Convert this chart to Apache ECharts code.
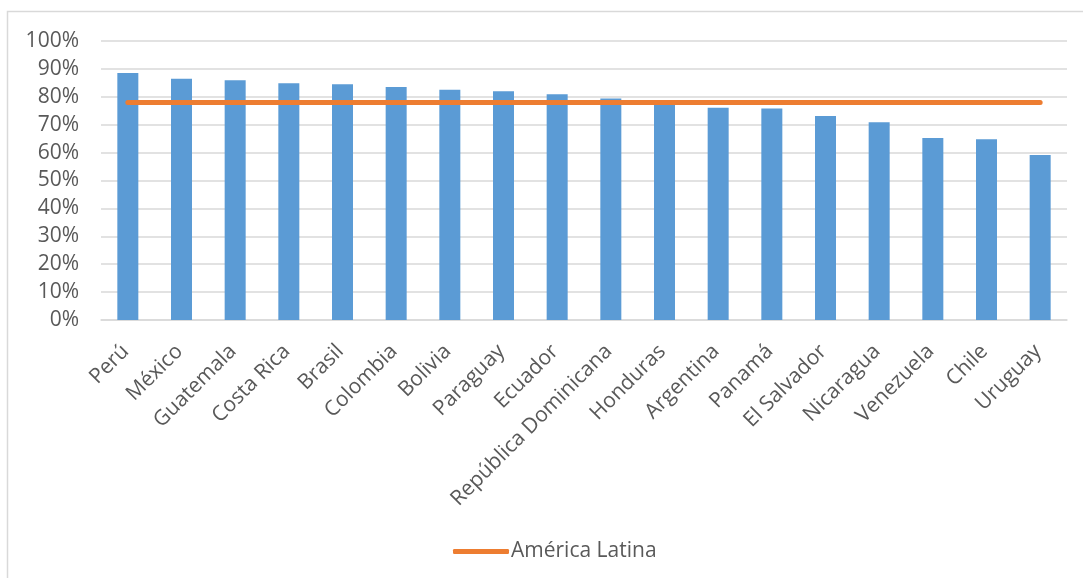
<!DOCTYPE html>
<html>
<head>
<meta charset="utf-8">
<script src="https://cdn.jsdelivr.net/npm/echarts@6/dist/echarts.min.js"></script>
<style>
html,body{margin:0;padding:0;background:#fff;}
#c{width:1083px;height:578px;}
</style>
</head>
<body>
<div id="c"></div>
<script>
const categories = ['Perú','México','Guatemala','Costa Rica','Brasil','Colombia','Bolivia','Paraguay','Ecuador','República Dominicana','Honduras','Argentina','Panamá','El Salvador','Nicaragua','Venezuela','Chile','Uruguay'];
const countryValues = [0.885,0.865,0.859,0.849,0.845,0.835,0.825,0.820,0.809,0.794,0.778,0.761,0.758,0.731,0.709,0.652,0.648,0.591];
const latinAmericaValue = 0.78;
const latinAmericaValues = categories.map(() => latinAmericaValue);
const yTicks = [0,0.1,0.2,0.3,0.4,0.5,0.6,0.7,0.8,0.9,1.0];

const font = 'Open Sans';
const textColor = '#595959';
const chart = echarts.init(document.getElementById('c'), null, {renderer:'canvas'});
chart.setOption({
  animation:false,
  backgroundColor:'#fff',
  graphic:[{type:'rect',shape:{x:7.5,y:11.5,width:1200,height:700},style:{fill:'none',stroke:'#d9d9d9',lineWidth:1.5},silent:true,z:-1}],
  grid:{left:101,right:16,top:41,bottom:258,containLabel:false},
  legend:{
    data:['América Latina'],
    left:448, top:536,
    icon:'roundRect', itemWidth:56, itemHeight:5, itemGap:10,
    textStyle:{fontFamily:font,fontSize:21,color:textColor,padding:[0,0,0,-3]}
  },
  xAxis:{
    type:'category', data:categories, boundaryGap:true,
    axisLine:{lineStyle:{color:'#d9d9d9',width:1.5}},
    axisTick:{show:false},
    axisLabel:{rotate:45,interval:0,fontFamily:font,fontSize:21,color:textColor,margin:26,padding:[0,3,0,0]}
  },
  yAxis:{
    type:'value', min:0, max:1, interval:0.1,
    axisLine:{show:false}, axisTick:{show:false},
    splitLine:{lineStyle:{color:'#d9d9d9',width:1.5}},
    axisLabel:{fontFamily:font,fontSize:21,color:textColor,margin:22,
      formatter:v=>{const t=yTicks.find(x=>Math.abs(x-v)<1e-9);return Math.round((t!==undefined?t:v)*100)+'%';}}
  },
  series:[
    {name:'País',type:'bar',data:countryValues,barWidth:21,
     itemStyle:{color:'#5B9BD5'},z:2},
    {name:'América Latina',type:'line',data:latinAmericaValues,symbol:'none',
     lineStyle:{color:'#ED7D31',width:5,cap:'round'},itemStyle:{color:'#ED7D31'},z:3}
  ]
});
</script>
</body>
</html>
